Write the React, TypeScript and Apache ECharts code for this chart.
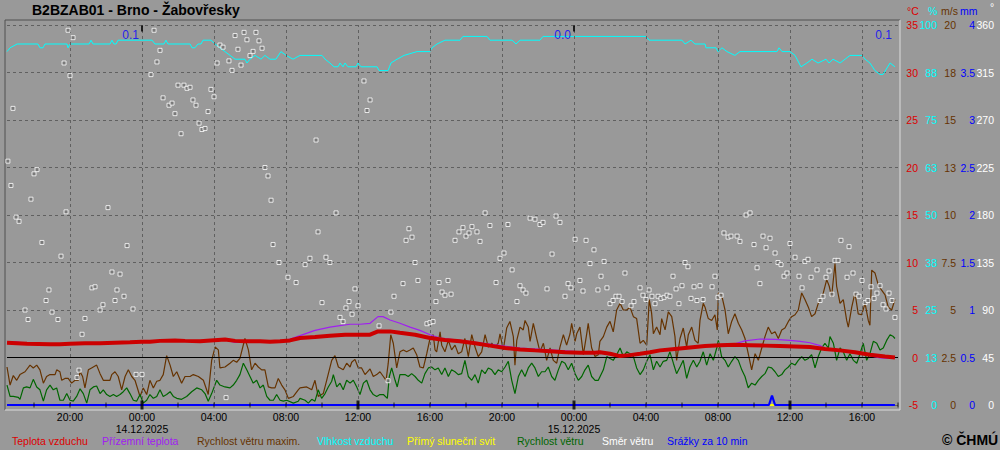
import React, { useEffect, useRef } from 'react';
import * as echarts from 'echarts';

const FONT = '"Liberation Sans", Arial, sans-serif';

// time values are hours since 13.12.2025 00:00
const dayLabels = ['13.12.2025', '14.12.2025', '15.12.2025'];
const labelHours = [20, 24, 28, 32, 36, 40, 44, 48, 52, 56, 60, 64];
const tickHours = [18, 20, 22, 24, 26, 28, 30, 32, 34, 36, 38, 40, 42, 44, 46, 48, 50, 52, 54, 56, 58, 60, 62, 64, 66];
const boldTickHours = [24, 36, 48, 60];
const dayEnds = [24, 48, 65.83];
const dayPrecipTotals = [0.1, 0.0, 0.1];

const legendNames = ['Teplota vzduchu', 'Přízemní teplota', 'Rychlost větru maxim.', 'Vlhkost vzduchu', 'Přímý sluneční svit', 'Rychlost větru', 'Směr větru', 'Srážky za 10 min'];

const temperature: number[][] = [
  [16.5,1.55],[17.61,1.45],[18.89,1.4],[19.44,1.4],[20.0,1.45],[20.83,1.5],[21.67,1.5],[22.5,1.55],[23.33,1.6],[24.0,1.65],[24.44,1.65],[25.0,1.75],[25.83,1.8],[26.39,1.75],[27.22,1.7],[28.22,1.85],[28.61,1.9],[29.17,1.75],[29.72,1.7],[30.56,1.7],[31.11,1.65],[31.67,1.7],[32.22,1.8],[32.78,2.05],[33.61,2.15],[34.44,2.3],[35.28,2.4],[36.11,2.4],[36.67,2.4],[37.11,2.75],[37.78,2.75],[38.33,2.6],[39.17,2.4],[40.0,2.05],[40.83,1.85],[41.67,1.7],[42.5,1.5],[43.33,1.25],[44.17,1.0],[45.0,0.85],[45.83,0.75],[46.67,0.65],[47.5,0.55],[48.33,0.5],[49.17,0.5],[49.44,0.55],[50.0,0.4],[50.56,0.15],[51.11,0.25],[51.67,0.4],[52.22,0.55],[52.78,0.75],[53.61,0.9],[54.44,1.05],[55.28,1.2],[56.11,1.3],[56.94,1.35],[57.78,1.3],[58.61,1.25],[59.44,1.2],[60.28,1.15],[61.11,1.1],[61.94,0.9],[62.78,0.75],[63.61,0.55],[64.44,0.3],[65.28,0.1],[65.83,0.0]
];

const groundTemp: number[][] = [
  [16.5,1.6],[17.0,1.65],[17.61,1.5],[18.89,1.4],[20.0,1.45],[21.67,1.5],[23.33,1.6],[24.44,1.65],[25.83,1.8],[27.22,1.7],[28.61,1.85],[29.17,1.6],[30.56,1.6],[31.67,1.7],[32.22,1.95],[32.78,2.3],[33.61,2.85],[34.44,3.2],[35.0,3.35],[35.56,3.5],[36.11,3.5],[36.67,3.6],[37.11,4.3],[37.39,4.3],[37.78,3.95],[38.33,3.6],[38.89,3.2],[39.44,2.85],[40.0,2.4],[40.56,2.05],[41.67,1.8],[43.33,1.4],[45.0,1.0],[46.67,0.8],[48.33,0.6],[49.44,0.55],[50.0,0.45],[50.56,0.25],[51.67,0.4],[52.22,0.6],[53.61,0.95],[55.28,1.25],[56.11,1.35],[56.94,1.45],[57.5,1.75],[58.33,1.95],[59.17,1.9],[60.0,1.8],[60.56,1.7],[61.11,1.55],[61.67,1.25],[61.94,0.95],[62.78,0.75],[63.61,0.5],[64.44,0.2],[65.0,-0.05],[65.56,-0.1],[65.83,-0.05]
];

const windGust: number[][] = [
  [16.5,2.0],[16.67,1.05],[16.85,1.55],[17.04,1.3],[17.22,1.6],[17.5,1.75],[17.78,2.1],[17.96,1.95],[18.15,2.1],[18.33,1.85],[18.52,1.15],[18.7,1.5],[18.89,1.6],[19.17,1.6],[19.26,1.85],[19.44,1.75],[19.54,1.3],[19.72,1.4],[19.9,1.4],[20.09,1.15],[20.28,1.3],[20.46,1.3],[20.56,1.75],[20.7,1.5],[20.83,0.9],[21.02,1.85],[21.2,1.95],[21.48,2.1],[21.67,1.65],[21.85,1.3],[22.22,1.3],[22.32,1.6],[22.5,1.75],[22.68,1.5],[22.87,0.8],[23.06,1.5],[23.24,1.85],[23.43,1.5],[23.61,1.3],[23.89,0.45],[24.07,0.9],[24.26,0.55],[24.44,1.3],[24.63,0.9],[24.82,1.25],[25.0,1.3],[25.18,1.6],[25.37,2.6],[25.56,2.1],[25.74,1.5],[25.93,1.75],[26.2,1.15],[26.39,1.5],[26.67,1.5],[26.85,1.6],[27.13,1.5],[27.41,1.3],[27.68,0.55],[27.87,2.35],[28.06,3.05],[28.24,2.9],[28.33,1.95],[28.61,2.0],[28.89,2.2],[29.07,2.35],[29.26,2.25],[29.44,2.45],[29.72,3.5],[29.91,2.9],[30.09,1.85],[30.28,2.2],[30.46,2.0],[30.65,1.85],[30.83,1.85],[31.02,0.95],[31.2,0.9],[31.39,0.9],[31.57,1.4],[31.76,1.05],[31.94,0.8],[32.13,0.35],[32.41,0.45],[32.68,0.8],
  [32.78,0.9],[33.15,0.95],[33.43,0.8],[33.61,1.3],[33.79,0.45],[34.07,0.6],[34.26,1.3],[34.54,2.35],[34.72,2.6],[34.91,2.0],[35.18,1.85],[35.37,2.2],[35.56,2.0],[35.65,2.25],[35.83,2.4],[36.02,1.95],[36.2,1.95],[36.39,1.6],[36.67,1.9],[36.85,1.5],[37.04,1.6],[37.22,1.75],[37.41,1.5],[37.56,1.3],[37.68,2.2],[37.82,3.7],[37.96,3.25],[38.15,1.95],[38.33,2.8],[38.52,2.9],[38.7,2.8],[38.89,2.9],[39.07,3.0],[39.26,2.65],[39.44,2.0],[39.63,1.95],[39.82,2.7],[40.0,3.5],[40.18,3.7],[40.28,2.9],[40.37,2.8],[40.56,3.85],[40.65,3.15],[40.83,2.8],[41.02,3.4],[41.2,2.9],[41.39,3.15],[41.57,2.7],[41.76,2.8],[41.94,3.5],[42.13,2.55],[42.32,3.7],[42.5,3.05],[42.68,2.55],[42.87,2.8],[43.06,3.7],[43.24,3.05],[43.43,3.25],[43.61,3.05],[43.79,3.25],[43.89,3.75],[44.07,2.9],[44.26,4.05],[44.44,4.4],[44.63,3.6],[44.72,2.1],[44.82,3.4],[45.0,4.1],[45.18,3.95],[45.28,4.45],[45.46,4.1],[45.56,3.35],[45.74,4.3],[45.93,3.5],[46.11,2.8],[46.3,3.25],[46.48,2.35],[46.67,3.0],[46.85,2.35],[47.04,2.2],[47.22,3.05],[47.41,3.7],[47.59,3.15],[47.78,3.75],[47.87,4.3],[48.06,3.35],[48.15,3.75],[48.33,4.1],[48.52,2.65],[48.7,3.7],[48.79,4.3],[48.98,3.0],[49.17,2.55],[49.35,2.65],
  [49.44,3.35],[49.63,3.6],[49.82,4.1],[50.0,4.4],[50.18,3.85],[50.37,5.0],[50.56,5.35],[50.74,5.0],[50.93,5.0],[51.11,5.15],[51.3,4.65],[51.48,4.55],[51.67,3.25],[51.85,3.4],[52.04,3.15],[52.18,5.55],[52.31,4.85],[52.41,3.75],[52.59,4.1],[52.78,3.7],[52.87,4.55],[53.06,3.95],[53.24,4.9],[53.43,4.65],[53.61,3.6],[53.7,2.35],[53.89,3.5],[54.07,4.05],[54.26,3.05],[54.35,3.7],[54.54,4.1],[54.72,3.4],[54.9,3.25],[55.0,4.45],[55.18,5.35],[55.28,5.15],[55.46,4.55],[55.65,4.45],[55.83,4.75],[55.96,3.95],[56.02,5.9],[56.2,5.8],[56.39,5.0],[56.57,3.75],[56.76,4.4],[56.94,4.8],[57.13,4.3],[57.32,3.95],[57.5,3.5],[57.68,2.7],[57.87,1.85],[58.06,2.7],[58.24,2.35],[58.43,3.0],[58.61,3.6],[58.79,4.1],[58.98,3.75],[59.17,3.85],[59.35,3.5],[59.54,3.95],[59.72,4.05],[59.91,4.4],[60.09,4.65],[60.28,4.75],[60.46,5.0],[60.65,5.9],[60.83,5.55],[61.02,5.15],[61.2,4.65],[61.39,4.8],[61.57,5.35],[61.76,5.7],[61.85,5.9],[62.04,6.6],[62.18,6.25],[62.31,5.7],[62.5,7.45],[62.59,6.25],[62.78,5.35],[62.96,5.55],[63.15,4.45],[63.24,4.1],[63.43,5.15],[63.61,5.9],[63.79,4.8],[63.98,4.75],[64.17,5.35],[64.35,4.45],[64.44,4.2],[64.54,7.1],[64.72,6.95],[64.91,6.3],[65.09,6.05],[65.28,5.8],[65.46,5.15],[65.65,5.0],[65.83,5.55]
];

const windSpeed: number[][] = [
  [16.5,1.05],[16.67,0.45],[16.85,0.45],[17.13,0.4],[17.22,0.3],[17.41,0.9],[17.59,0.95],[17.78,0.9],[17.96,1.35],[18.15,0.95],[18.33,0.8],[18.52,0.2],[18.7,0.8],[18.89,1.05],[19.07,0.8],[19.26,0.9],[19.44,0.25],[19.63,0.25],[19.82,0.6],[20.0,0.25],[20.18,0.2],[20.37,0.45],[20.56,0.85],[20.74,0.6],[20.93,0.1],[21.11,0.8],[21.3,0.95],[21.48,1.0],[21.67,0.6],[21.85,0.8],[22.04,0.55],[22.22,0.45],[22.41,0.55],[22.59,0.45],[22.78,0.55],[22.96,0.7],[23.15,0.9],[23.33,0.6],[23.52,0.25],[23.7,0.2],[23.89,0.55],[24.07,0.1],[24.26,0.25],[24.44,0.55],[24.63,0.35],[24.82,0.45],[25.0,0.8],[25.18,0.45],[25.37,0.55],[25.56,0.7],[25.74,0.45],[25.93,0.35],[26.2,0.3],[26.48,0.45],[26.76,0.7],[27.04,0.9],[27.32,0.8],[27.5,0.6],[27.68,0.2],[27.87,0.6],[28.15,1.3],[28.33,1.05],[28.61,0.95],[28.89,0.9],[29.07,1.05],[29.26,1.3],[29.44,1.6],[29.63,2.2],[29.82,1.85],[30.0,1.5],[30.18,1.15],[30.37,1.3],[30.56,0.9],[30.74,1.05],[30.93,0.45],[31.11,0.25],[31.3,0.25],[31.48,0.55],[31.67,0.25],[31.85,0.2],[32.04,0.25],[32.41,0.1],[32.68,0.2],
  [32.78,0.35],[33.06,0.25],[33.24,0.1],[33.43,0.3],[33.61,0.2],[33.79,0.8],[33.98,0.35],[34.17,0.6],[34.35,0.95],[34.54,1.25],[34.63,1.6],[34.82,0.95],[35.0,1.15],[35.18,0.8],[35.37,1.3],[35.56,1.15],[35.74,1.3],[35.93,0.95],[36.11,0.55],[36.3,1.15],[36.48,1.3],[36.67,0.8],[36.85,0.55],[37.04,0.45],[37.22,0.55],[37.41,0.55],[37.63,0.35],[37.74,1.5],[37.87,1.95],[38.06,1.3],[38.18,0.95],[38.33,1.6],[38.61,1.6],[38.79,1.5],[38.98,1.65],[39.17,1.5],[39.35,1.3],[39.54,1.15],[39.72,1.65],[39.91,1.95],[40.09,2.0],[40.28,1.85],[40.46,1.95],[40.65,1.6],[40.83,1.95],[41.02,1.5],[41.2,1.85],[41.39,1.75],[41.57,1.6],[41.76,1.65],[41.94,2.35],[42.13,1.5],[42.32,1.3],[42.5,1.6],[42.68,1.15],[42.87,1.85],[43.06,1.65],[43.24,1.95],[43.43,1.85],[43.61,1.6],[43.79,1.85],[43.98,1.75],[44.17,2.0],[44.35,2.3],[44.54,1.3],[44.72,0.6],[44.91,1.5],[45.09,1.85],[45.28,1.5],[45.46,1.95],[45.65,2.2],[45.83,1.95],[46.02,1.5],[46.2,1.75],[46.39,1.75],[46.57,2.0],[46.76,1.5],[46.94,1.3],[47.13,1.85],[47.32,2.3],[47.5,2.2],[47.68,1.85],[47.87,2.2],[48.06,1.65],[48.24,1.3],[48.43,1.5],[48.61,1.85],[48.79,2.1],[48.98,1.5],[49.17,1.3],[49.35,1.3],
  [49.63,1.85],[49.82,2.55],[50.0,2.45],[50.18,2.35],[50.37,2.65],[50.56,3.0],[50.74,2.55],[50.93,2.8],[51.11,2.7],[51.3,2.55],[51.48,1.95],[51.67,1.6],[51.85,1.85],[52.04,2.3],[52.22,2.65],[52.41,1.85],[52.59,2.3],[52.78,2.0],[52.96,2.3],[53.15,2.35],[53.33,2.8],[53.52,2.2],[53.7,1.65],[53.89,2.0],[54.07,2.35],[54.26,1.4],[54.44,2.0],[54.63,2.35],[54.82,2.0],[55.0,2.3],[55.18,2.8],[55.37,2.1],[55.56,2.7],[55.74,2.35],[55.93,3.0],[56.02,3.4],[56.2,2.55],[56.39,2.35],[56.57,2.0],[56.76,2.3],[56.94,2.55],[57.13,2.35],[57.32,1.85],[57.5,1.5],[57.68,0.9],[57.87,1.15],[58.06,1.05],[58.24,1.3],[58.43,1.5],[58.61,1.65],[58.79,2.0],[58.98,1.95],[59.17,1.75],[59.35,1.5],[59.54,1.6],[59.72,1.85],[59.91,2.0],[60.09,2.2],[60.28,2.1],[60.46,2.35],[60.65,2.55],[60.83,2.35],[61.02,2.45],[61.2,2.65],[61.39,1.95],[61.57,2.55],[61.76,3.0],[61.94,3.25],[62.13,3.0],[62.22,3.6],[62.41,3.25],[62.59,2.35],[62.78,3.0],[62.96,2.8],[63.15,2.35],[63.33,2.7],[63.52,2.35],[63.71,2.2],[63.89,2.7],[64.07,3.25],[64.26,2.35],[64.44,2.7],[64.63,3.35],[64.82,3.25],[65.0,2.9],[65.18,3.0],[65.37,3.4],[65.56,3.7],[65.74,3.6],[65.83,3.5]
];

const humidity: number[][] = [
  [16.5,93],[16.67,94],[17.06,95],[18.22,95],[18.33,94],[18.5,94],[18.61,95],[19.83,95],[19.89,94],[20.0,95],[21.06,95],[21.17,96],[21.28,95],[22.22,95],[22.33,96],[22.44,95],[22.56,95],[22.67,96],[24.56,96],[24.72,95],[25.22,95],[25.33,96],[25.44,95],[26.67,95],[26.78,94],[26.94,94],[27.11,95],[27.28,95],[27.39,96],[27.83,96],[28.06,95],[28.33,94],[28.61,93],[28.89,92],[29.17,91],[29.72,91],[29.83,90],[30.0,91],[30.28,92],[30.61,91],[30.83,92],[31.11,91],[31.44,91],[31.72,93],[32.0,92],[32.39,91],[32.78,92],
  [34.0,92],[34.17,91],[34.44,90],[34.67,89],[34.89,89],[35.0,90],[35.17,89],[35.28,90],[35.44,89],[35.89,89],[36.0,90],[36.17,89],[37.06,89],[37.17,88],[37.67,88],[37.75,89],[37.83,90],[38.17,91],[38.56,92],[39.28,93],[40.0,93],[40.11,94],[40.39,95],[40.83,96],[41.67,96],[41.83,97],[43.17,97],[43.33,96],[44.56,96],[44.78,95],[45.0,96],[46.11,96],[46.28,97],
  [52.0,97],[52.17,96],[54.0,96],[54.17,95],[54.5,96],[54.72,95],[55.28,95],[55.33,94],[55.89,94],[56.0,93],[56.22,94],[56.5,93],[56.94,92],[57.22,93],[57.5,93],[59.28,93],[59.39,94],[59.56,93],[60.0,93],[60.28,92],[60.61,89],[60.94,90],[61.22,91],[61.56,90],[62.0,91],[62.17,90],[62.39,91],[62.78,90],[63.06,91],[63.33,92],[63.67,92],[64.0,92],[64.17,91],[64.44,90],[64.72,88],[65.0,87],[65.17,87],[65.56,90],[65.83,89]
];

const windDirection: number[][] = [
  [16.55,231],[16.72,208],[16.83,281],[17.0,178],[17.17,174],[17.5,90],[17.67,81],[17.83,195],[18.0,219],[18.17,223],[18.44,154],[18.67,99],[18.83,109],[19.0,88],[19.33,81],[19.5,141],[19.67,324],[19.78,183],[19.89,355],[20.0,312],[20.17,348],[20.39,26],[20.5,33],[20.67,67],[20.83,82],[21.22,111],[21.39,112],[21.67,90],[21.83,95],[22.11,187],[22.33,126],[22.5,99],[22.61,109],[22.78,124],[23.0,103],[23.17,151],[23.5,91],[23.67,29],[24.0,29],
  [24.5,313],[24.67,355],[24.83,325],[25.0,336],[25.17,291],[25.5,284],[25.67,286],[25.83,276],[26.0,303],[26.17,257],[26.33,303],[26.5,300],[26.67,301],[26.83,289],[27.0,284],[27.17,267],[27.33,261],[27.5,262],[27.67,278],[27.83,299],[28.0,292],[28.17,324],[28.33,341],[28.5,339],[28.67,7],[28.83,326],[29.0,317],[29.17,350],[29.33,337],[29.5,322],[29.67,353],[29.83,346],[30.0,331],[30.17,335],[30.33,353],[30.5,345],[30.67,338],[30.83,225],[31.0,217],[31.17,194],[31.28,152],[31.61,135],[32.11,121],[32.56,116],
  [33.06,133],[33.33,139],[33.67,251],[33.78,164],[34.0,97],[34.22,140],[34.44,135],[34.78,182],[35.0,83],[35.17,79],[35.33,92],[35.5,98],[35.67,86],[35.83,110],[36.0,94],[36.33,307],[36.5,279],[36.67,289],[37.17,75],[37.67,23],[37.83,88],[38.0,103],[38.5,115],[38.67,156],[38.83,167],[39.0,159],[39.17,135],[39.33,118],[39.83,77],[40.0,78],[40.17,79],[40.33,98],[40.5,116],[40.67,107],[40.83,104],[41.0,118],[41.17,105],[41.39,156],[41.61,164],[41.83,168],[42.0,160],[42.17,163],[42.33,169],[42.61,164],[42.78,155],[43.06,182],[43.33,170],[43.67,116],[43.89,139],[44.11,144],[44.33,171],[44.56,128],[44.83,98],[45.0,113],[45.17,109],[45.33,106],[45.56,177],[45.83,176],[46.11,171],[46.28,173],[46.5,110],[46.78,143],[47.0,179],[47.22,173],[47.5,103],[47.67,115],[47.83,111],
  [48.06,157],[48.33,118],[48.5,108],[48.67,156],[48.89,134],[49.11,147],[49.33,109],[49.5,122],[49.67,136],[49.83,111],[50.0,96],[50.17,99],[50.33,103],[50.5,103],[50.67,98],[50.83,125],[51.17,94],[51.33,98],[51.67,111],[51.83,104],[52.0,100],[52.17,109],[52.33,103],[52.5,96],[52.67,103],[52.83,101],[53.0,102],[53.17,104],[53.33,103],[53.5,122],[53.67,110],[53.83,96],[54.0,113],[54.17,135],[54.33,131],[54.5,101],[54.67,112],[54.83,99],[55.0,113],[55.17,100],[55.67,112],[55.83,122],[56.0,102],[56.17,104],[56.33,163],[56.56,159],[56.72,160],[57.06,160],[57.22,155],[57.56,180],[57.78,182],[58.0,152],[58.17,130],[58.33,115],[58.5,160],[58.67,149],[58.89,158],[59.17,144],[59.33,135],[59.5,133],[59.67,122],[59.83,125],
  [60.0,153],[60.28,140],[60.5,122],[60.67,111],[60.83,136],[61.0,138],[61.17,121],[61.5,128],[61.67,99],[61.83,103],[62.0,121],[62.17,127],[62.33,105],[62.5,137],[62.67,137],[62.83,156],[63.17,121],[63.28,150],[63.5,125],[63.67,105],[63.83,103],[64.0,118],[64.17,97],[64.33,99],[64.5,112],[64.67,101],[64.83,106],[65.0,113],[65.17,95],[65.33,91],[65.5,106],[65.67,99],[65.83,83]
];

const precipitation: number[][] = [[16.5,0],[58.83,0],[59.0,0.1],[59.17,0],[65.83,0]];
const sunshine: number[][] = [[16.5,0],[65.83,0]];

function timeLabel(v: number): string {
  const h = Math.round(v);
  const hh = ((h % 24) + 24) % 24;
  const t = (hh < 10 ? '0' : '') + hh + ':00';
  if (hh === 0) return t + '\n' + dayLabels[h / 24];
  return t;
}

function buildOption(): any {
  const txt = { fontFamily: FONT, fontSize: 10.5 };
  const rightAxis = (min: number, max: number, interval: number, color: string, margin: number, fmt?: (v: number) => string, split = false) => ({
    type: 'value', position: 'right', min, max, interval, offset: 0,
    axisLine: { show: false }, axisTick: { show: false },
    splitLine: split ? { show: true, lineStyle: { color: '#606060', type: [3, 3], width: 1 } } : { show: false },
    axisLabel: { color, margin, align: 'right', ...txt, formatter: fmt },
  });
  const legendColors = ['#dd0000', '#a020f0', '#663300', '#00ffff', '#ffff00', '#006600', '#ffffff', '#0000ff'];
  const legendX = [12, 102, 197, 317, 407, 517, 602, 667];
  return {
    animation: false,
    backgroundColor: '#999999',
    title: { text: 'B2BZAB01 - Brno - Žabovřesky', left: 32, top: 3, padding: 0, textStyle: { fontFamily: FONT, fontSize: 14, fontWeight: 'bold', color: '#000' } },
    grid: { left: 7, right: 102, top: 25, bottom: 45 },
    xAxis: {
      type: 'value', min: 16.5, max: 66,
      axisLine: { show: false },
      axisTick: { show: false, customValues: tickHours },
      axisLabel: { customValues: labelHours, formatter: timeLabel, color: '#000', ...txt, lineHeight: 12, margin: 6 },
      splitLine: { show: false },
    },
    yAxis: [
      rightAxis(-5, 35, 5, '#dd0000', 20, undefined, true),
      rightAxis(0, 100, 12.5, '#00ffff', 39, (v) => String(Math.round(v))),
      rightAxis(0, 20, 2.5, '#663300', 58, (v) => (v < 10 ? String(v) : String(Math.round(v)))),
      rightAxis(0, 4, 0.5, '#0000ff', 77),
      rightAxis(0, 360, 45, '#ffffff', 96),
    ],
    graphic: [
      { type: 'line', shape: { x1: 5, y1: 20, x2: 900, y2: 20 }, style: { stroke: '#505050', lineWidth: 1 } },
      { type: 'line', shape: { x1: 5, y1: 20, x2: 5, y2: 410 }, style: { stroke: '#505050', lineWidth: 1 } },
      { type: 'line', shape: { x1: 900, y1: 20, x2: 900, y2: 410 }, style: { stroke: '#dcdcdc', lineWidth: 1 } },
      { type: 'line', shape: { x1: 5, y1: 410, x2: 900, y2: 410 }, style: { stroke: '#dcdcdc', lineWidth: 1 } },
      { type: 'text', x: 907, y: 5, style: { text: '°C', fill: '#dd0000', font: '10.5px ' + FONT } },
      { type: 'text', x: 928, y: 5, style: { text: '%', fill: '#00ffff', font: '10.5px ' + FONT } },
      { type: 'text', x: 941, y: 5, style: { text: 'm/s', fill: '#663300', font: '10.5px ' + FONT } },
      { type: 'text', x: 960, y: 5, style: { text: 'mm', fill: '#0000ff', font: '10.5px ' + FONT } },
      { type: 'text', x: 990, y: 1, style: { text: '°', fill: '#ffffff', font: '10.5px ' + FONT } },
      ...legendNames.map((n, i) => ({ type: 'text', x: legendX[i], y: 435, style: { text: n, fill: legendColors[i], font: '10.5px ' + FONT } })),
      { type: 'text', x: 942, y: 433, style: { text: '© ČHMÚ', fill: '#000', font: 'bold 14px ' + FONT } },
    ],
    series: [
      {
        name: 'grid', type: 'line', yAxisIndex: 0, data: [], silent: true, z: 1,
        markLine: {
          silent: true, symbol: 'none', label: { show: false },
          data: [
            ...labelHours.map((h) => ({ xAxis: h, lineStyle: { color: '#606060', type: [3, 3], width: 1 } })),
            { yAxis: 0, lineStyle: { color: '#000000', type: 'solid', width: 1 } },
          ],
        },
      },
      { name: legendNames[3], type: 'line', yAxisIndex: 1, data: humidity, showSymbol: false, lineStyle: { color: '#00ffff', width: 1 }, z: 2 },
      { name: legendNames[2], type: 'line', yAxisIndex: 2, data: windGust, showSymbol: false, lineStyle: { color: '#663300', width: 1.2 }, z: 3 },
      { name: legendNames[5], type: 'line', yAxisIndex: 2, data: windSpeed, showSymbol: false, lineStyle: { color: '#006600', width: 1.2 }, z: 4 },
      { name: legendNames[1], type: 'line', yAxisIndex: 0, data: groundTemp, showSymbol: false, lineStyle: { color: '#a020f0', width: 1.2 }, z: 5 },
      { name: legendNames[0], type: 'line', yAxisIndex: 0, data: temperature, showSymbol: false, lineStyle: { color: '#cc0000', width: 4 }, z: 6 },
      { name: legendNames[4], type: 'line', yAxisIndex: 3, data: sunshine, showSymbol: false, lineStyle: { color: '#ffff00', width: 2 }, z: 6 },
      { name: legendNames[7], type: 'line', yAxisIndex: 3, data: precipitation, showSymbol: false, lineStyle: { color: '#0000ff', width: 2.2 }, z: 7 },
      {
        name: legendNames[6], type: 'scatter', yAxisIndex: 4, data: windDirection, symbol: 'rect', symbolSize: 4,
        itemStyle: { color: '#707070', borderColor: '#ffffff', borderWidth: 1 }, z: 8,
      },
      {
        name: 'axisTicks', type: 'scatter', yAxisIndex: 0, data: tickHours.map((h) => [h, -5]), symbol: 'rect',
        symbolSize: (val: number[]) => (boldTickHours.indexOf(val[0]) >= 0 ? [3, 9] : [1, 5]),
        itemStyle: { color: '#000' }, z: 9, silent: true,
      },
      {
        name: 'dayMarks', type: 'scatter', yAxisIndex: 0, data: dayEnds.slice(0, 2).map((h) => [h, 34.63]), symbol: 'rect', symbolSize: [2, 6],
        itemStyle: { color: '#000' }, z: 9, silent: true,
      },
      {
        name: 'dayTotals', type: 'scatter', yAxisIndex: 0, symbolSize: 0, z: 9, silent: true,
        data: dayEnds.map((h, i) => [h, 33.9, dayPrecipTotals[i]]),
        label: { show: true, position: 'left', distance: 3, color: '#0000ff', fontFamily: FONT, fontSize: 12, formatter: (p: any) => p.value[2].toFixed(1) },
      },
    ],
  };
}

export default function App() {
  const ref = useRef<HTMLDivElement>(null);
  useEffect(() => {
    const chart = echarts.init(ref.current!, null, { renderer: 'svg' });
    chart.setOption(buildOption());
    return () => chart.dispose();
  }, []);
  return <div ref={ref} style={{ position: 'fixed', left: 0, top: 0, width: 1000, height: 450 }} />;
}
